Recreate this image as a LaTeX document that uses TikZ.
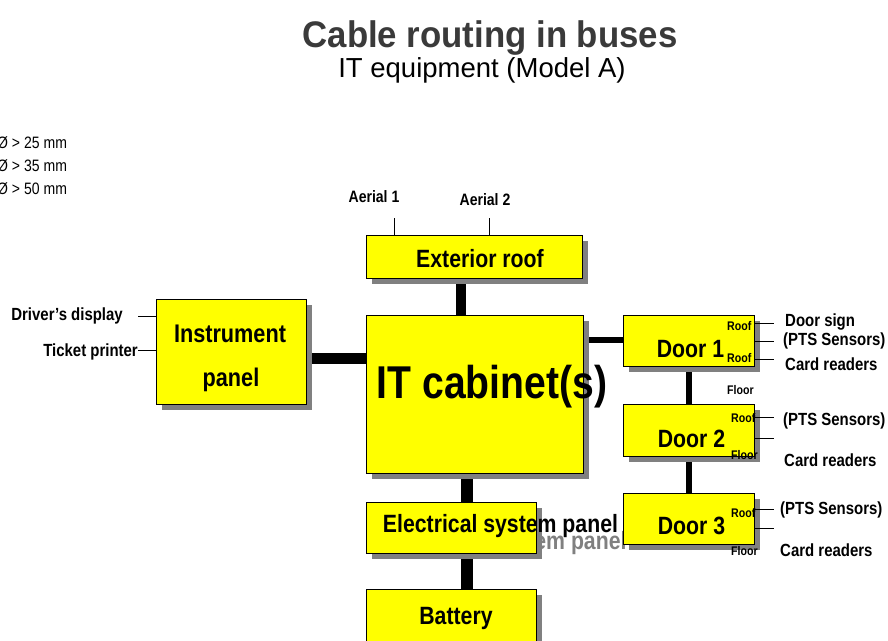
\documentclass[tikz,border=0pt]{standalone}
\usepackage{fontspec}
\setmainfont{Liberation Sans}
\newfontfamily\nf[FakeStretch=0.85]{Liberation Sans}
\newfontfamily\tf[FakeStretch=0.94]{Liberation Sans}
\usetikzlibrary{shadows,backgrounds,calc}
\newcommand\fsz[1]{\fontsize{#1}{#1}\selectfont}
\definecolor{boxyellow}{RGB}{255,255,0}
\definecolor{shadowgray}{RGB}{128,128,128}
\definecolor{titlegray}{RGB}{58,58,58}
\definecolor{ghostgray}{RGB}{128,128,128}
\tikzset{
  box/.style={draw=black, line width=1.2pt, fill=boxyellow, anchor=north west, inner sep=0pt,
    drop shadow={shadow xshift=5pt, shadow yshift=-5pt, fill=shadowgray, opacity=1}},
  bus/.style={draw=black, line width=#1},
  tick/.style={draw=black, line width=1pt},
  bigtxt/.style={inner sep=0pt, anchor=base, font={\nf\bfseries\fsz{#1}}},
  smalltxt/.style={inner sep=0pt, anchor=base west, font={\nf\bfseries\fsz{12.5}}},
  sidetxt/.style={inner sep=0pt, anchor=base west, font={\nf\bfseries\fsz{17.6}}},
  lefttxt/.style={inner sep=0pt, anchor=base east, font={\nf\bfseries\fsz{17.6}}},
  legendtxt/.style={inner sep=0pt, anchor=base west, font={\nf\fsz{16.5}}},
}
\begin{document}
\begin{tikzpicture}[x=1pt,y=-1pt]
\useasboundingbox (0,0) rectangle (888,640);
% title
\node[inner sep=0pt, anchor=base, text=titlegray, font={\tf\bfseries\fsz{37}}] (title) at (490,47) {Cable routing in buses};
\node[inner sep=0pt, anchor=base, font={\fsz{27.5}}] (subtitle) at (482,77) {IT equipment (Model A)};
% legend
\node[legendtxt] (leg25) at (-3,148) {Ø > 25 mm};
\node[legendtxt] (leg35) at (-3,171) {Ø > 35 mm};
\node[legendtxt] (leg50) at (-3,194) {Ø > 50 mm};
% ghost text
\node[bigtxt=25, text=ghostgray] (elecghost) at (509,549) {Electrical system panel};
% boxes
\node[box, minimum width=216pt, minimum height=43pt] (ext) at (366,235) {};
\node[box, minimum width=217pt, minimum height=158pt] (it) at (366,315) {};
\node[box, minimum width=150pt, minimum height=105pt] (instr) at (156,299) {};
\node[box, minimum width=131pt, minimum height=51pt] (d1) at (623,315) {};
\node[box, minimum width=131pt, minimum height=52pt] (d2) at (623,404) {};
\node[box, minimum width=131pt, minimum height=51pt] (d3) at (623,493) {};
\node[box, minimum width=170pt, minimum height=51pt] (elec) at (366,502) {};
\node[box, minimum width=170pt, minimum height=70pt] (batt) at (366,589) {};
% bus connectors
\begin{scope}[on background layer]
\draw[bus=9.5pt] ($(ext.south west)+(95,0)$) -- ($(it.north west)+(95,0)$);
\draw[bus=10.5pt] ($(instr.east)+(0,6.5)$) -- ($(instr.east -| it.west)+(0,6.5)$);
\draw[bus=6pt] ($(it.north east)+(0,25)$) -- ($(it.north east -| d1.west)+(0,25)$);
\draw[bus=12pt] ($(it.south west)+(101,0)$) -- ($(elec.north west)+(101,0)$);
\draw[bus=12pt] ($(elec.south west)+(101,0)$) -- ($(batt.north west)+(101,0)$);
\draw[bus=6pt] ($(d1.south west)+(66,0)$) -- ($(d2.north west)+(66,0)$);
\draw[bus=6pt] ($(d2.south west)+(66,0)$) -- ($(d3.north west)+(66,0)$);
\end{scope}
% thin connectors
\draw[tick] ($(ext.north west)+(28,0)$) -- ++(0,-17);
\draw[tick] ($(ext.north west)+(123,0)$) -- ++(0,-17);
\draw[tick] ($(instr.north west)+(0,17)$) -- ++(-18,0);
\draw[tick] ($(instr.north west)+(0,51)$) -- ++(-18,0);
\draw[tick] ($(d1.north east)+(0,8)$) -- ++(19,0);
\draw[tick] ($(d1.north east)+(0,26)$) -- ++(19,0);
\draw[tick] ($(d1.north east)+(0,44)$) -- ++(19,0);
\draw[tick] ($(d2.north east)+(0,13)$) -- ++(19,0);
\draw[tick] ($(d2.north east)+(0,34)$) -- ++(19,0);
\draw[tick] ($(d3.north east)+(0,16)$) -- ++(19,0);
\draw[tick] ($(d3.north east)+(0,35)$) -- ++(19,0);
% box texts
\node[bigtxt=25] (extlbl) at (480,267) {Exterior roof};
\node[bigtxt=46] (itlbl) at (492,398) {IT cabinet(s)};
\node[bigtxt=25.5] (instrlbl1) at (230,342) {Instrument};
\node[bigtxt=25.5] (instrlbl2) at (231,386) {panel};
\node[bigtxt=25] (d1lbl) at (690.5,357) {Door 1};
\node[bigtxt=25] (d2lbl) at (691.5,447) {Door 2};
\node[bigtxt=25] (d3lbl) at (691.5,534) {Door 3};
\node[bigtxt=25] (eleclbl) at (500.5,532) {Electrical system panel};
\node[bigtxt=25] (battlbl) at (456,624) {Battery};
% aerials
\node[bigtxt=16.5] (aer1) at (374,202) {Aerial 1};
\node[bigtxt=16.5] (aer2) at (485,205) {Aerial 2};
% small roof/floor
\node[smalltxt] (d1roofa) at (727,330) {Roof};
\node[smalltxt] (d1roofb) at (727,362) {Roof};
\node[smalltxt] (d1floor) at (727,394) {Floor};
\node[smalltxt] (d2roof) at (731,422) {Roof};
\node[smalltxt] (d2floor) at (731,459) {Floor};
\node[smalltxt] (d3roof) at (731,517) {Roof};
\node[smalltxt] (d3floor) at (731,555) {Floor};
% side labels
\node[sidetxt] (doorsign) at (785,326) {Door sign};
\node[sidetxt] (pts1) at (783,345) {(PTS Sensors)};
\node[sidetxt] (card1) at (785,370) {Card readers};
\node[sidetxt] (pts2) at (783,425) {(PTS Sensors)};
\node[sidetxt] (card2) at (784,466) {Card readers};
\node[sidetxt] (pts3) at (780,514) {(PTS Sensors)};
\node[sidetxt] (card3) at (780,556) {Card readers};
\node[lefttxt] (driver) at (123,320) {Driver’s display};
\node[lefttxt] (ticket) at (138,356) {Ticket printer};
\end{tikzpicture}
\end{document}
